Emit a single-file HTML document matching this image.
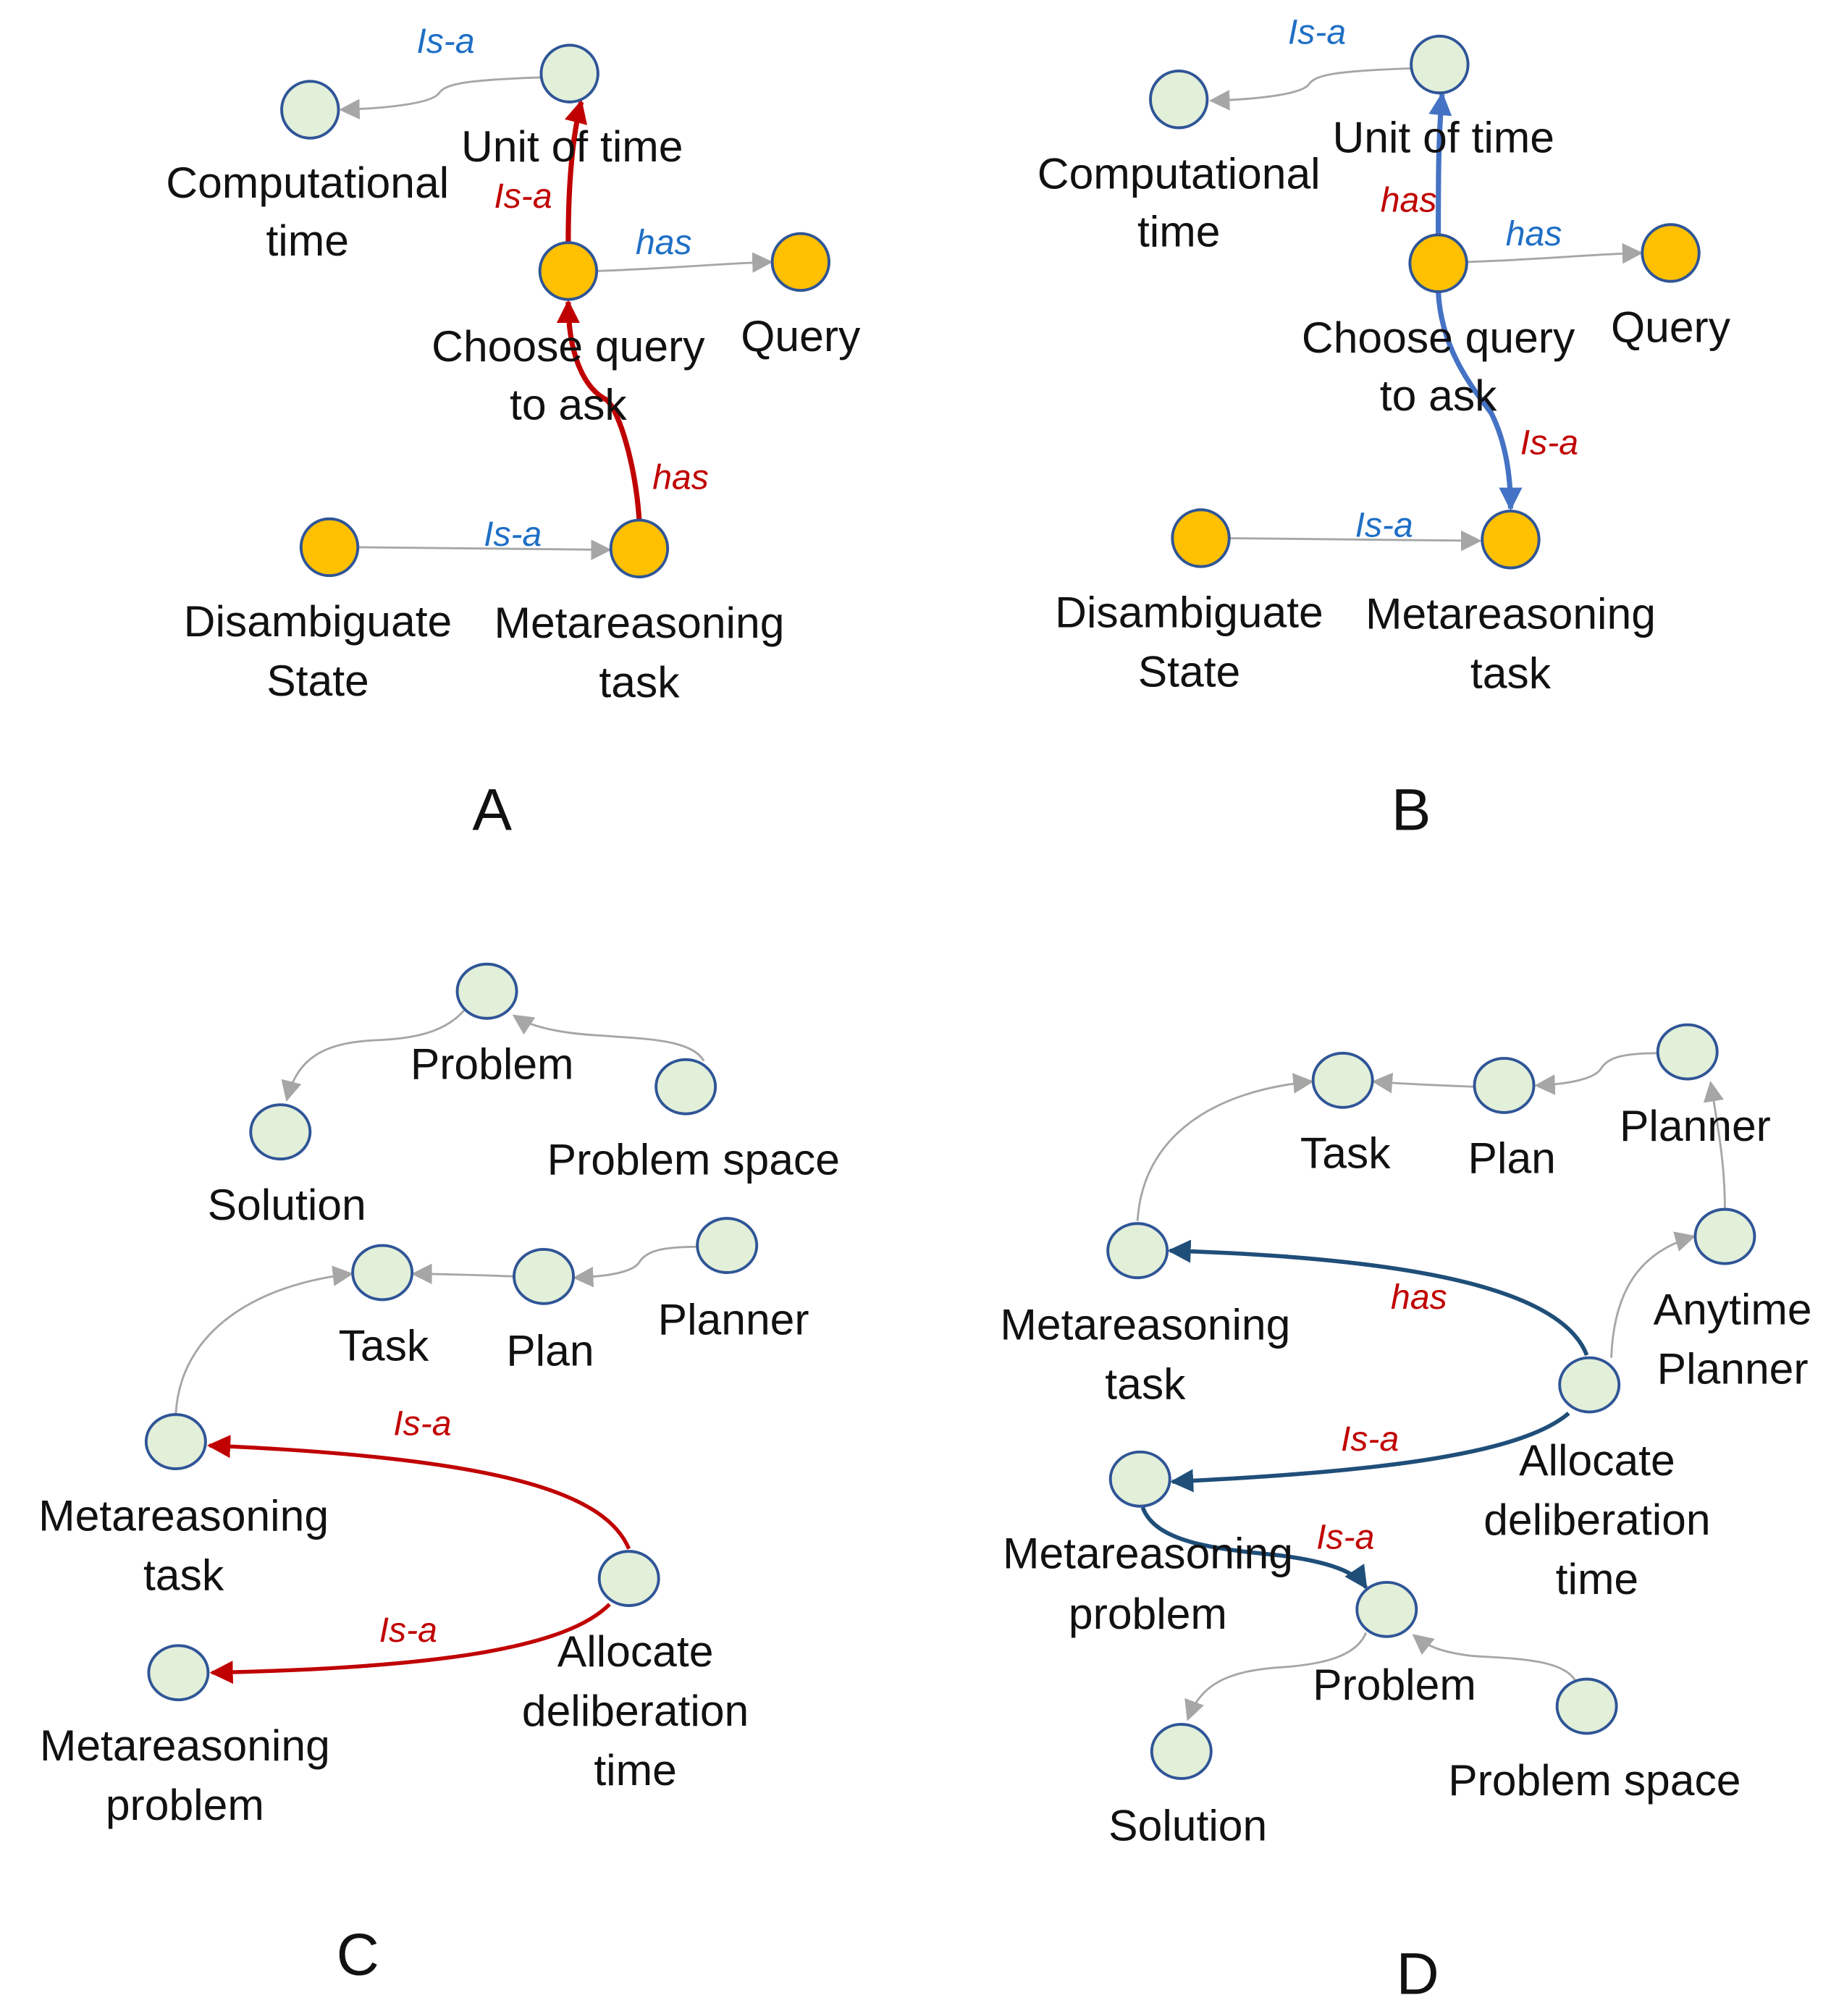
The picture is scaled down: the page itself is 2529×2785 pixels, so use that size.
<!DOCTYPE html>
<html><head><meta charset="utf-8"><style>
html,body{margin:0;padding:0;background:#fff}
svg{display:block}
text{font-family:"Liberation Sans",sans-serif;font-size:34px;fill:#111;text-anchor:middle}
.e{font-style:italic;font-size:27px}
.b{fill:#1f6fc5}.r{fill:#c00000}
.g{fill:#e2efd9;stroke:#2f5597;stroke-width:2.2}
.o{fill:#ffc000;stroke:#2f5597;stroke-width:2.2}
.gl{fill:none;stroke:#a6a6a6;stroke-width:1.6}
.rl{fill:none;stroke:#c00000;stroke-width:4}
.rt{fill:none;stroke:#c00000;stroke-width:3}
.bl{fill:none;stroke:#4472c4;stroke-width:4}
.dl{fill:none;stroke:#1f4e79;stroke-width:3.2}
.big{font-size:46px}
</style></head><body>
<svg width="2529" height="2785" viewBox="0 0 1418 1562" xmlns="http://www.w3.org/2000/svg">
<defs>
<marker id="ga" viewBox="0 0 10 10" refX="9" refY="5" markerWidth="16" markerHeight="16" markerUnits="userSpaceOnUse" orient="auto"><path d="M0,0L10,5L0,10z" fill="#a6a6a6"/></marker>
<marker id="ra" viewBox="0 0 10 10" refX="9" refY="5" markerWidth="18" markerHeight="18" markerUnits="userSpaceOnUse" orient="auto"><path d="M0,0L10,5L0,10z" fill="#c00000"/></marker>
<marker id="ba" viewBox="0 0 10 10" refX="9" refY="5" markerWidth="18" markerHeight="18" markerUnits="userSpaceOnUse" orient="auto"><path d="M0,0L10,5L0,10z" fill="#4472c4"/></marker>
<marker id="da" viewBox="0 0 10 10" refX="9" refY="5" markerWidth="18" markerHeight="18" markerUnits="userSpaceOnUse" orient="auto"><path d="M0,0L10,5L0,10z" fill="#1f4e79"/></marker>
</defs>

<!-- Panel A -->
<path class="gl" d="M419,60 C360,62 345,65 340,72 C335,80 300,84 264,85" marker-end="url(#ga)"/>
<path class="gl" d="M462,210 C520,208 560,204 597,203" marker-end="url(#ga)"/>
<path class="gl" d="M277,424 C350,425 420,426 472,426" marker-end="url(#ga)"/>
<path class="rl" d="M440,188 C440,150 442,110 450,79" marker-end="url(#ra)"/>
<path class="rl" d="M495,403 C492,360 480,320 470,310 C450,300 440,270 440,234" marker-end="url(#ra)"/>
<circle class="g" cx="240" cy="85" r="22"/>
<circle class="g" cx="441" cy="57" r="22"/>
<circle class="o" cx="440" cy="210" r="22"/>
<circle class="o" cx="620" cy="203" r="22"/>
<circle class="o" cx="255" cy="424" r="22"/>
<circle class="o" cx="495" cy="425" r="22"/>
<text class="e b" x="345" y="41">Is-a</text>
<text class="e r" x="405" y="161">Is-a</text>
<text class="e b" x="514" y="197">has</text>
<text class="e r" x="527" y="379">has</text>
<text class="e b" x="397" y="423">Is-a</text>
<text x="443" y="125">Unit of time</text>
<text x="238" y="153">Computational</text>
<text x="238" y="198">time</text>
<text x="440" y="280">Choose query</text>
<text x="440" y="325">to ask</text>
<text x="620" y="272">Query</text>
<text x="246" y="493">Disambiguate</text>
<text x="246" y="539">State</text>
<text x="495" y="494">Metareasoning</text>
<text x="495" y="540">task</text>
<text class="big" x="381" y="643">A</text>

<!-- Panel B -->
<path class="gl" d="M1093,53 C1034,55 1019,58 1014,65 C1009,73 974,77 938,78" marker-end="url(#ga)"/>
<path class="gl" d="M1136,203 C1194,201 1234,197 1271,196" marker-end="url(#ga)"/>
<path class="gl" d="M951,417 C1024,418 1094,419 1146,419" marker-end="url(#ga)"/>
<path class="bl" d="M1114,182 C1114,140 1114,105 1117,73" marker-end="url(#ba)"/>
<path class="bl" d="M1114,226 C1116,270 1140,300 1155,320 C1165,340 1170,365 1170,394" marker-end="url(#ba)"/>
<circle class="g" cx="913" cy="77" r="22"/>
<circle class="g" cx="1115" cy="50" r="22"/>
<circle class="o" cx="1114" cy="204" r="22"/>
<circle class="o" cx="1294" cy="196" r="22"/>
<circle class="o" cx="930" cy="417" r="22"/>
<circle class="o" cx="1170" cy="418" r="22"/>
<text class="e b" x="1020" y="34">Is-a</text>
<text class="e r" x="1091" y="164">has</text>
<text class="e b" x="1188" y="190">has</text>
<text class="e r" x="1200" y="352">Is-a</text>
<text class="e b" x="1072" y="416">Is-a</text>
<text x="1118" y="118">Unit of time</text>
<text x="913" y="146">Computational</text>
<text x="913" y="191">time</text>
<text x="1114" y="273">Choose query</text>
<text x="1114" y="318">to ask</text>
<text x="1294" y="265">Query</text>
<text x="921" y="486">Disambiguate</text>
<text x="921" y="532">State</text>
<text x="1170" y="487">Metareasoning</text>
<text x="1170" y="533">task</text>
<text class="big" x="1093" y="643">B</text>

<!-- Panel C -->
<path class="gl" d="M360,782 C345,800 320,805 290,806 C250,808 230,820 222,852" marker-end="url(#ga)"/>
<path class="gl" d="M545,822 C535,805 500,805 460,802 C430,800 410,795 398,787" marker-end="url(#ga)"/>
<path class="gl" d="M399,989 C370,988 345,987 320,987" marker-end="url(#ga)"/>
<path class="gl" d="M541,966 C510,966 500,970 495,978 C490,986 470,989 445,990" marker-end="url(#ga)"/>
<path class="gl" d="M136,1095 C140,1030 200,995 272,987" marker-end="url(#ga)"/>
<path class="rt" d="M487,1200 C470,1160 400,1130 162,1120" marker-end="url(#ra)"/>
<path class="rt" d="M472,1243 C440,1275 350,1292 164,1296" marker-end="url(#ra)"/>
<ellipse class="g" cx="377" cy="768" rx="23" ry="21"/>
<ellipse class="g" cx="217" cy="877" rx="23" ry="21"/>
<ellipse class="g" cx="531" cy="842" rx="23" ry="21"/>
<ellipse class="g" cx="296" cy="986" rx="23" ry="21"/>
<ellipse class="g" cx="421" cy="989" rx="23" ry="21"/>
<ellipse class="g" cx="563" cy="965" rx="23" ry="21"/>
<ellipse class="g" cx="136" cy="1117" rx="23" ry="21"/>
<ellipse class="g" cx="138" cy="1296" rx="23" ry="21"/>
<ellipse class="g" cx="487" cy="1223" rx="23" ry="21"/>
<text class="e r" x="327" y="1112">Is-a</text>
<text class="e r" x="316" y="1272">Is-a</text>
<text x="381" y="836">Problem</text>
<text x="222" y="945">Solution</text>
<text x="537" y="910">Problem space</text>
<text x="297" y="1054">Task</text>
<text x="426" y="1058">Plan</text>
<text x="568" y="1034">Planner</text>
<text x="142" y="1186">Metareasoning</text>
<text x="142" y="1232">task</text>
<text x="143" y="1364">Metareasoning</text>
<text x="143" y="1410">problem</text>
<text x="492" y="1291">Allocate</text>
<text x="492" y="1337">deliberation</text>
<text x="492" y="1383">time</text>
<text class="big" x="277" y="1530">C</text>

<!-- Panel D -->
<path class="gl" d="M1142,842 C1115,841 1090,840 1064,838" marker-end="url(#ga)"/>
<path class="gl" d="M1284,816 C1255,816 1245,820 1240,828 C1235,836 1215,840 1190,841" marker-end="url(#ga)"/>
<path class="gl" d="M1336,936 C1336,900 1330,870 1325,839" marker-end="url(#ga)"/>
<path class="gl" d="M1248,1052 C1250,1000 1270,970 1312,958" marker-end="url(#ga)"/>
<path class="gl" d="M881,946 C885,880 940,845 1016,838" marker-end="url(#ga)"/>
<path class="gl" d="M1058,1265 C1050,1285 1020,1290 990,1292 C950,1295 930,1305 920,1332" marker-end="url(#ga)"/>
<path class="gl" d="M1220,1302 C1210,1285 1170,1285 1140,1283 C1115,1280 1105,1275 1095,1267" marker-end="url(#ga)"/>
<path class="dl" d="M1229,1050 C1210,1000 1100,975 906,969" marker-end="url(#da)"/>
<path class="dl" d="M1215,1095 C1180,1125 1080,1140 908,1148" marker-end="url(#da)"/>
<path class="dl" d="M885,1168 C895,1195 940,1200 990,1205 C1030,1210 1050,1218 1058,1230" marker-end="url(#da)"/>
<ellipse class="g" cx="1040" cy="837" rx="23" ry="21"/>
<ellipse class="g" cx="1165" cy="841" rx="23" ry="21"/>
<ellipse class="g" cx="1307" cy="815" rx="23" ry="21"/>
<ellipse class="g" cx="1336" cy="958" rx="23" ry="21"/>
<ellipse class="g" cx="881" cy="969" rx="23" ry="21"/>
<ellipse class="g" cx="1231" cy="1073" rx="23" ry="21"/>
<ellipse class="g" cx="883" cy="1146" rx="23" ry="21"/>
<ellipse class="g" cx="1074" cy="1247" rx="23" ry="21"/>
<ellipse class="g" cx="915" cy="1357" rx="23" ry="21"/>
<ellipse class="g" cx="1229" cy="1322" rx="23" ry="21"/>
<text class="e r" x="1099" y="1014">has</text>
<text class="e r" x="1061" y="1124">Is-a</text>
<text class="e r" x="1042" y="1200">Is-a</text>
<text x="1042" y="905">Task</text>
<text x="1171" y="909">Plan</text>
<text x="1313" y="884">Planner</text>
<text x="1342" y="1026">Anytime</text>
<text x="1342" y="1072">Planner</text>
<text x="887" y="1038">Metareasoning</text>
<text x="887" y="1084">task</text>
<text x="1237" y="1143">Allocate</text>
<text x="1237" y="1189">deliberation</text>
<text x="1237" y="1235">time</text>
<text x="889" y="1215">Metareasoning</text>
<text x="889" y="1262">problem</text>
<text x="1080" y="1317">Problem</text>
<text x="920" y="1426">Solution</text>
<text x="1235" y="1391">Problem space</text>
<text class="big" x="1098" y="1545">D</text>
</svg>
</body></html>
